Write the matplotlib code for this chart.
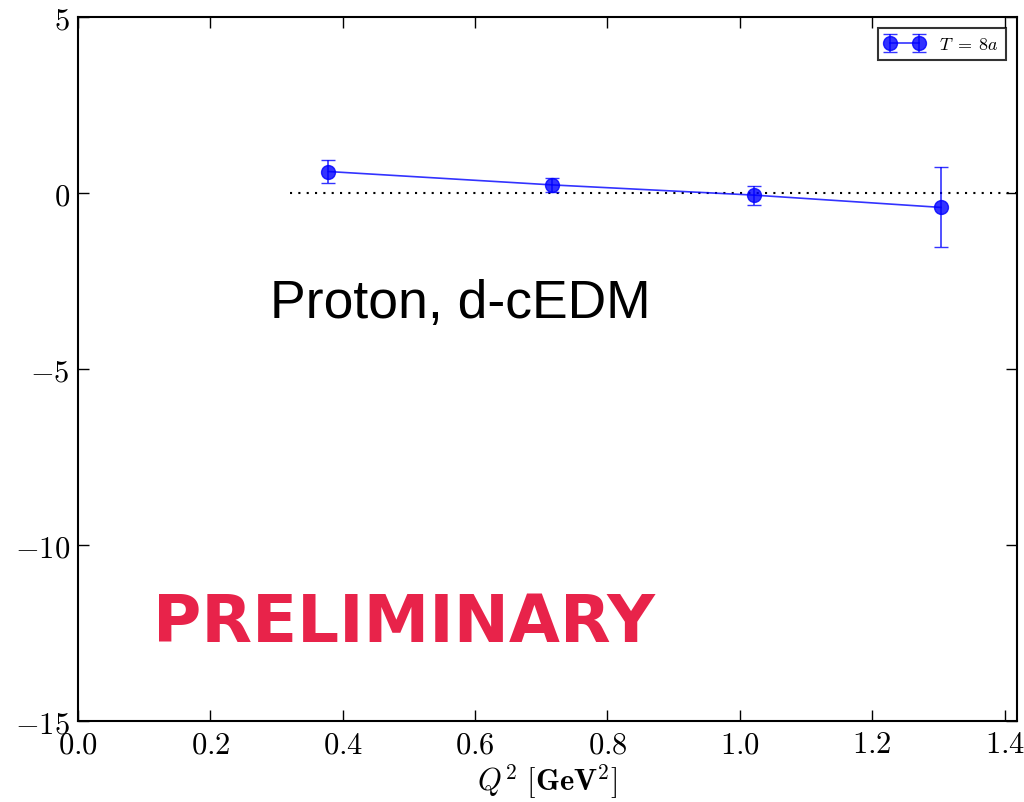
import matplotlib
matplotlib.use("Agg")
import matplotlib.pyplot as plt

plt.rcParams['mathtext.fontset'] = 'cm'
plt.rcParams['font.family'] = 'DejaVu Sans'

# data
q2 = [0.378, 0.716, 1.021, 1.304]
values = [0.61, 0.23, -0.06, -0.41]
errors = [0.335, 0.20, 0.27, 1.136]

x_ticks = [0.0, 0.2, 0.4, 0.6, 0.8, 1.0, 1.2, 1.4]
y_ticks = [-15, -10, -5, 0, 5]

fig = plt.figure(figsize=(10.24, 8.03), dpi=100)
ax = fig.add_axes([0.0762, 0.1009, 0.9168, 0.8767])

ax.plot([0.32, 1.42], [0, 0], color='black', linestyle=(0, (1, 3)), linewidth=1.5)
ax.errorbar(q2, values, yerr=errors, color='blue', marker='o', markersize=10,
            capsize=5, linewidth=1.2, alpha=0.8, label=r'$T\;=\;8a$')

ax.set_xlim(0, 1.4185)
ax.set_ylim(-15, 5)
ax.set_xticks(x_ticks)
ax.set_yticks(y_ticks)
ax.set_xticklabels([r'$%.1f$' % t for t in x_ticks], fontsize=22)
ax.set_yticklabels([r'$%d$' % t if t >= 0 else r'$-%d$' % -t for t in y_ticks], fontsize=22)
ax.tick_params(direction='in', length=8, width=1, top=True, right=True, pad=6)
for s in ax.spines.values():
    s.set_linewidth(1.5)

ax.set_xlabel(r'$Q^2\ [\mathbf{GeV}^2]$', fontsize=22, labelpad=2)

ax.text(0.29, -3.52, 'Proton, d-cEDM', fontsize=38.5, family='Liberation Sans',
        color='black')
ax.text(0.113, -12.73, 'PRELIMINARY', fontsize=47.5, fontweight='bold',
        family='DejaVu Sans', color='#E8234A')

leg = ax.legend(loc='upper right', numpoints=2, fontsize=13, fancybox=False,
                borderaxespad=0.6, handlelength=2.2)
leg.get_frame().set_edgecolor('black')
leg.get_frame().set_linewidth(1.5)

fig.savefig('out.png', dpi=100)
